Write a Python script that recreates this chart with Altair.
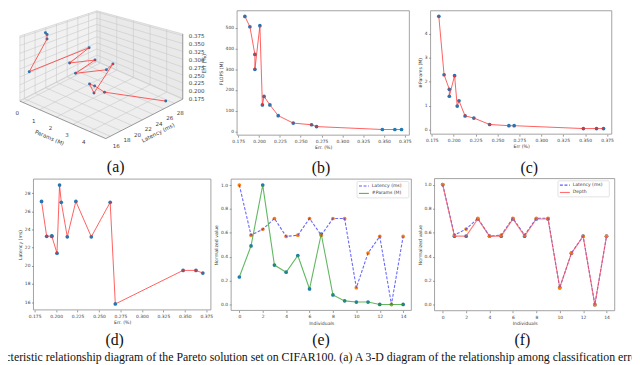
import altair as alt
import numpy as np
import pandas as pd

# ---------------- data ----------------
err = [0.183, 0.189, 0.195, 0.195, 0.201, 0.204, 0.206, 0.213, 0.223, 0.241, 0.263, 0.269, 0.348, 0.363, 0.371]
flops = [556, 506, 372, 300, 511, 128, 169, 128, 76, 40, 32, 23, 9, 9, 9]
params = [4.73, 2.29, 1.68, 1.39, 2.25, 0.98, 1.20, 0.57, 0.48, 0.21, 0.16, 0.16, 0.04, 0.04, 0.04]
latency = [27.1, 23.25, 23.3, 23.25, 21.4, 28.9, 27.0, 23.2, 27.1, 23.2, 27.0, 15.8, 19.5, 19.5, 19.2]

individuals = list(range(15))
lat_norm = [1.0, 0.58, 0.63, 0.72, 0.57, 0.58, 0.72, 0.58, 0.72, 0.72, 0.14, 0.43, 0.57, 0.0, 0.57]
params_norm = [0.23, 0.49, 1.0, 0.33, 0.27, 0.41, 0.13, 0.59, 0.08, 0.03, 0.02, 0.02, 0.0, 0.0, 0.0]
depth_norm = [1.0, 0.571, 0.571, 0.714, 0.571, 0.571, 0.714, 0.571, 0.714, 0.714, 0.143, 0.429, 0.571, 0.0, 0.571]

err_ticks = [0.175, 0.2, 0.225, 0.25, 0.275, 0.3, 0.325, 0.35, 0.375]
flops_ticks = [0, 100, 200, 300, 400, 500]
params_ticks = [0, 1, 2, 3, 4]
lat_ticks = [16, 18, 20, 22, 24, 26, 28]
ind_ticks = [0, 2, 4, 6, 8, 10, 12, 14]
norm_ticks = [0.0, 0.2, 0.4, 0.6, 0.8, 1.0]

captions = ["(a)", "(b)", "(c)", "(d)", "(e)", "(f)"]
caption_text = ("acteristic relationship diagram of the Pareto solution set on CIFAR100. "
                "(a) A 3-D diagram of the relationship among classification error")

# ---------------- layout / style ----------------
W, H, OFF = 632, 357, 8
SANS = "DejaVu Sans"
SERIF = "Liberation Serif"
BLUE = "#1f77b4"
ORANGE = "#ff7f0e"
RED = "#ff2a2a"
GREEN = "#2ca02c"
DBLUE = "#3535ff"
LRED = "#ff4d4d"
FRAME = "#8c8c8c"
TXT = "#3c3c3c"


def pad(vals, f=0.05):
    lo, hi = min(vals), max(vals)
    d = (hi - lo) * f
    return [lo - d, hi + d]


def cv(v):
    return v - OFF


def mk_axis(orient, values, fmt, title, offset):
    return alt.Axis(orient=orient, values=values, format=fmt, title=title, offset=offset,
                    domain=False, grid=False, tickSize=2, tickWidth=0.6, tickColor="#555",
                    labelFont=SANS, labelFontSize=4.5, labelColor=TXT, labelPadding=1.5,
                    labelOverlap=False, labelFlush=False, labelBound=False,
                    titleFont=SANS, titleFontSize=4.7, titleFontWeight="normal",
                    titleColor=TXT, titlePadding=2)


def frame_layer(L, R, B, T):
    return alt.Chart(pd.DataFrame({"k": [0]})).mark_rect(
        fill="white", fillOpacity=0, stroke=FRAME, strokeWidth=0.8).encode(
        x=alt.value(L), x2=alt.value(R), y=alt.value(T), y2=alt.value(B))


def pix():
    return dict(x=alt.X("x:Q", scale=None), y=alt.Y("y:Q", scale=None))


def text_layer(xs, ys, texts, size, font=SANS, color=TXT, angle=0, align="center"):
    df = pd.DataFrame({"x": xs, "y": ys, "t": texts})
    mk = dict(font=font, fontSize=size, color=color, align=align, baseline="middle")
    if angle:
        mk["angle"] = angle
    return alt.Chart(df).mark_text(**mk).encode(text="t:N", **pix())


layers = []

# ---------------- (b), (c), (d) ----------------
def pareto(yvals, box, yticks, ytitle, xtitle):
    L, R, B, T = [cv(v) for v in box]
    df = pd.DataFrame({"i": list(range(len(err))), "err": err, "v": yvals})
    X = alt.X("err:Q", scale=alt.Scale(domain=pad(err), range=[L, R], nice=False, zero=False),
              axis=mk_axis("bottom", err_ticks, ".3f", xtitle, B - H))
    Y = alt.Y("v:Q", scale=alt.Scale(domain=pad(yvals), range=[B, T], nice=False, zero=False),
              axis=mk_axis("left", yticks, "d", ytitle, -L))
    pts = alt.Chart(df).mark_circle(size=14, color=BLUE, opacity=1).encode(x=X, y=Y)
    ln = alt.Chart(df).mark_line(color=RED, strokeWidth=1, opacity=0.75).encode(x=X, y=Y, order="i:Q")
    return alt.layer(frame_layer(L, R, B, T), pts, ln)


layers.append(pareto(flops, (240, 414.5, 134.5, 8.5), flops_ticks, "FLOPS (M)", "Err. (%)"))
layers.append(pareto(params, (436, 619.5, 133.5, 8.5), params_ticks, "#Params (M)", "Err (%)"))
layers.append(pareto(latency, (33.8, 213.5, 311.5, 179), lat_ticks, "Latency (ms)", "Err. (%)"))


# ---------------- (e), (f) ----------------
def norm_panel(series, box, legend_box):
    L, R, B, T = [cv(v) for v in box]
    X = alt.X("ind:Q", scale=alt.Scale(domain=pad(individuals), range=[L, R], nice=False, zero=False),
              axis=mk_axis("bottom", ind_ticks, "d", "Individuals", B - H))
    Y = alt.Y("v:Q", scale=alt.Scale(domain=[-0.05, 1.05], range=[B, T], nice=False, zero=False),
              axis=mk_axis("left", norm_ticks, ".1f", "Normalized value", -L))
    sub = [frame_layer(L, R, B, T)]
    for name, vals, lcol, dash, mcol in reversed(series):
        df = pd.DataFrame({"ind": individuals, "v": vals})
        sub.append(alt.Chart(df).mark_circle(size=14, color=mcol, opacity=1).encode(x=X, y=Y))
    for name, vals, lcol, dash, mcol in series:
        df = pd.DataFrame({"ind": individuals, "v": vals})
        mk = dict(color=lcol, strokeWidth=1.1, opacity=0.75)
        if dash:
            mk["strokeDash"] = [3, 1.6]
        sub.append(alt.Chart(df).mark_line(**mk).encode(x=X, y=Y))
    # legend
    lx0, lx1, ly0, ly1 = [cv(v) for v in legend_box]
    sub.append(alt.Chart(pd.DataFrame({"k": [0]})).mark_rect(
        fill="white", stroke="#d0d0d0", strokeWidth=0.6, cornerRadius=1).encode(
        x=alt.value(lx0), x2=alt.value(lx1), y=alt.value(ly0), y2=alt.value(ly1)))
    n = len(series)
    step = (ly1 - ly0) / (n + 0.2)
    for k, (name, vals, lcol, dash, mcol) in enumerate(series):
        yy = ly0 + step * (k + 0.6)
        mk = dict(color=lcol, strokeWidth=1.1, opacity=0.8)
        if dash:
            mk["strokeDash"] = [3, 1.6]
        sub.append(alt.Chart(pd.DataFrame({"k": [0]})).mark_rule(**mk).encode(
            x=alt.value(lx0 + 2), x2=alt.value(lx0 + 12), y=alt.value(yy)))
        sub.append(text_layer([lx0 + 15], [yy], [name], 4.6, align="left"))
    return alt.layer(*sub)


layers.append(norm_panel([("Latency (ms)", lat_norm, DBLUE, True, ORANGE),
                          ("#Params (M)", params_norm, GREEN, False, BLUE)],
                         (234, 416.5, 312, 179), (361.5, 414, 181.5, 198)))
layers.append(norm_panel([("Latency (ms)", lat_norm, DBLUE, True, ORANGE),
                          ("Depth", depth_norm, LRED, False, BLUE)],
                         (440, 622.5, 312.3, 178.5), (565, 617, 180.7, 197)))

# ---------------- (a) 3-D view ----------------
XL, YL, ZL = pad(params), pad(latency), pad(err)
O3 = (20.0, 100.0)
EX = (87.0, 38.0)
EY = (78.0, -40.0)
EZ = 66.0
PERSP = 0.22
z_ticks = err_ticks


def proj(p, l, e):
    p, l, e = np.asarray(p, float), np.asarray(l, float), np.asarray(e, float)
    nx = (p - XL[0]) / (XL[1] - XL[0])
    ny = (l - YL[0]) / (YL[1] - YL[0])
    nz = (e - ZL[0]) / (ZL[1] - ZL[0])
    sx = O3[0] + EX[0] * nx + EY[0] * ny
    sy = O3[1] + EX[1] * nx + EY[1] * ny - EZ * (1 - PERSP * (ny - nx)) * nz
    return cv(sx), cv(sy)


def corner(i, j, k):
    return proj(XL[i], YL[j], ZL[k])


c000, c100, c110, c010 = corner(0, 0, 0), corner(1, 0, 0), corner(1, 1, 0), corner(0, 1, 0)
c001, c011, c111 = corner(0, 0, 1), corner(0, 1, 1), corner(1, 1, 1)

# panes
left_df = pd.DataFrame({"x": [c000[0], c010[0]], "y": [c000[1], c010[1]], "y2": [c001[1], c011[1]]})
right_df = pd.DataFrame({"x": [c010[0], c110[0]], "y": [c010[1], c110[1]], "y2": [c011[1], c111[1]]})
fx = sorted([float(c000[0]), float(c010[0]), float(c100[0]), float(c110[0])])
ftop = np.interp(fx, [c000[0], c010[0], c110[0]], [c000[1], c010[1], c110[1]])
fbot = np.interp(fx, [c000[0], c100[0], c110[0]], [c000[1], c100[1], c110[1]])
floor_df = pd.DataFrame({"x": fx, "y": ftop, "y2": fbot})
for df, col in [(left_df, "#f1f1f1"), (right_df, "#e9e9e9"), (floor_df, "#eeeeee")]:
    layers.append(alt.Chart(df).mark_area(color=col, opacity=1).encode(
        x=alt.X("x:Q", scale=None), y=alt.Y("y:Q", scale=None), y2="y2:Q"))

segs = []


def seg(a, b, kind):
    x1, y1 = proj(*a)
    x2, y2 = proj(*b)
    segs.append(dict(x=float(x1), y=float(y1), x2=float(x2), y2=float(y2), kind=kind))


for p in params_ticks:
    seg((p, YL[0], ZL[0]), (p, YL[1], ZL[0]), "g")
    seg((p, YL[1], ZL[0]), (p, YL[1], ZL[1]), "g")
for l in lat_ticks:
    seg((XL[0], l, ZL[0]), (XL[1], l, ZL[0]), "g")
    seg((XL[0], l, ZL[0]), (XL[0], l, ZL[1]), "g")
for z in z_ticks:
    seg((XL[0], YL[0], z), (XL[0], YL[1], z), "g")
    seg((XL[0], YL[1], z), (XL[1], YL[1], z), "g")
# pane outlines
for a, b in [((0, 0, 0), (0, 1, 0)), ((0, 1, 0), (0, 1, 1)), ((0, 1, 1), (0, 0, 1)), ((0, 0, 1), (0, 0, 0)),
             ((0, 1, 0), (1, 1, 0)), ((0, 1, 1), (1, 1, 1))]:
    seg((XL[a[0]], YL[a[1]], ZL[a[2]]), (XL[b[0]], YL[b[1]], ZL[b[2]]), "g")
# axis lines
for a, b in [((0, 0, 0), (1, 0, 0)), ((1, 0, 0), (1, 1, 0)), ((1, 1, 0), (1, 1, 1))]:
    seg((XL[a[0]], YL[a[1]], ZL[a[2]]), (XL[b[0]], YL[b[1]], ZL[b[2]]), "a")
segdf = pd.DataFrame(segs)
layers.append(alt.Chart(segdf[segdf.kind == "g"]).mark_rule(color="#c9c9c9", strokeWidth=0.6).encode(
    x=alt.X("x:Q", scale=None), y=alt.Y("y:Q", scale=None), x2="x2:Q", y2="y2:Q"))
layers.append(alt.Chart(segdf[segdf.kind == "a"]).mark_rule(color="#555555", strokeWidth=0.6).encode(
    x=alt.X("x:Q", scale=None), y=alt.Y("y:Q", scale=None), x2="x2:Q", y2="y2:Q"))

px3, py3 = proj(params, latency, err)
d3 = pd.DataFrame({"i": list(range(len(err))), "x": px3, "y": py3})
layers.append(alt.Chart(d3).mark_circle(size=9, color=BLUE, opacity=1).encode(
    x=alt.X("x:Q", scale=None), y=alt.Y("y:Q", scale=None)))
layers.append(alt.Chart(d3).mark_line(color=RED, strokeWidth=1, opacity=0.75).encode(
    x=alt.X("x:Q", scale=None), y=alt.Y("y:Q", scale=None), order="i:Q"))

# 3-D tick labels
tx, ty = proj(params_ticks, [YL[0]] * 5, [ZL[0]] * 5)
layers.append(text_layer(tx - 6, ty + 11, [str(v) for v in params_ticks], 5.6))
tx, ty = proj([XL[1]] * 7, lat_ticks, [ZL[0]] * 7)
layers.append(text_layer(tx + 6, ty + 9.4, [str(v) for v in lat_ticks], 5.6))
tx, ty = proj([XL[1]] * 9, [YL[1]] * 9, z_ticks)
layers.append(text_layer(tx + 14, ty + 0.5, ["%.3f" % v for v in z_ticks], 5.6))
mx, my = (c000[0] + c100[0]) / 2, (c000[1] + c100[1]) / 2
layers.append(text_layer([mx - 13.5], [my + 18], ["Params (M)"], 5.6,
                         angle=float(np.degrees(np.arctan2(EX[1], EX[0])))))
mx, my = (c100[0] + c110[0]) / 2, (c100[1] + c110[1]) / 2
layers.append(text_layer([mx + 14], [my + 14], ["Latency (ms)"], 5.6,
                         angle=float(360 + np.degrees(np.arctan2(EY[1], EY[0])))))
mx, my = (c110[0] + c111[0]) / 2, (c110[1] + c111[1]) / 2
layers.append(text_layer([mx + 22], [my - 3], ["Err (%)"], 5.6, angle=270))

# ---------------- captions ----------------
cap_x = [cv(v) for v in [117, 325, 536, 116, 325, 529]]
cap_y = [cv(v) for v in [167, 168, 168, 342, 342, 342]]
layers.append(text_layer(cap_x, cap_y, captions, 16, font=SERIF, color="#111"))
layers.append(text_layer([cv(0)], [cv(359)], [caption_text], 12.0, font=SERIF, color="#111", align="left"))

chart = alt.layer(*layers).resolve_scale(x="independent", y="independent").properties(
    width=W, height=H, autosize=alt.AutoSizeParams(type="none"), padding=0
).configure_view(strokeWidth=0)

chart.save("out.html", embed_options={"renderer": "svg", "actions": False})
